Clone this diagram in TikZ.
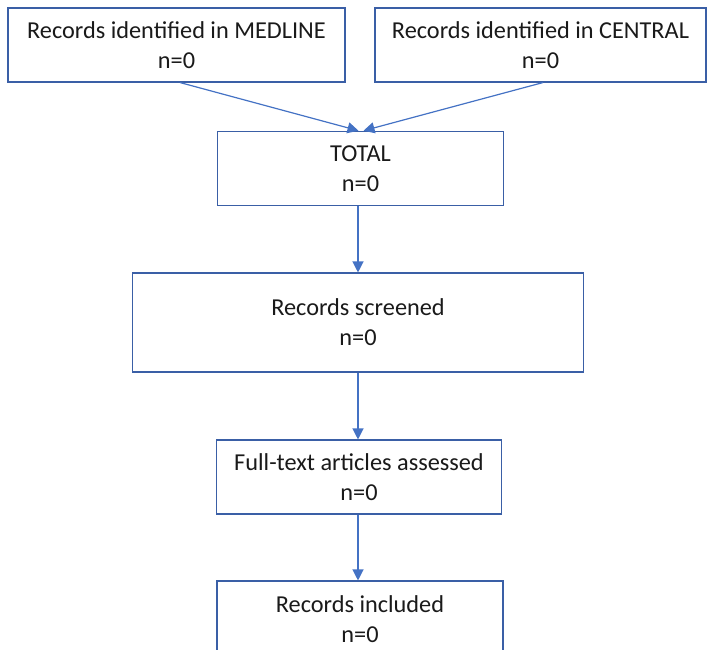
\documentclass[tikz,border=0pt]{standalone}
\usepackage{fontspec}
\setmainfont{Carlito}
\usetikzlibrary{arrows.meta,calc}
\definecolor{boxblue}{HTML}{3A5FA6}
\definecolor{arrblue}{HTML}{4472C4}
\definecolor{txt}{HTML}{1A1A1A}
\tikzset{
  box/.style={draw=boxblue, line width=1.1pt, fill=white, inner sep=0pt,
    align=center, text=txt, font=\fontsize{24.3}{30}\selectfont},
  arr/.style={draw=arrblue, line width=1.2pt, -{Triangle[length=11pt,width=11pt]}}
}
\begin{document}
\begin{tikzpicture}[x=1pt,y=-1pt]
\useasboundingbox (0,0) rectangle (707,649);
\clip (0,0) rectangle (707,649);
\node[box, minimum width=337pt, minimum height=74pt] (med) at (176.5,45) {Records identified in MEDLINE\\n=0};
\node[box, minimum width=331pt, minimum height=74pt] (cen) at (540.5,45) {Records identified in CENTRAL\\n=0};
\node[box, minimum width=285.5pt, minimum height=74.5pt] (tot) at (360.5,168.5) {TOTAL\\n=0};
\node[box, minimum width=450.5pt, minimum height=99pt] (scr) at (358,322.5) {Records screened\\n=0};
\node[box, minimum width=285.5pt, minimum height=74pt] (ful) at (359,477) {Full-text articles assessed\\n=0};
\node[box, minimum width=286pt, minimum height=76pt] (inc) at (360,619) {Records included\\n=0};
\coordinate (t1) at ($(tot.south)+(-2.5,0)$);
\coordinate (f1) at ($(ful.south)+(-1,0)$);
\draw[arr] ($(med.south)+(3.5,0)$) -- ($(tot.north)+(-2,0)$);
\draw[arr] ($(cen.south)+(2.5,0)$) -- ($(tot.north)+(3,0)$);
\draw[arr] (t1) -- (t1 |- scr.north);
\draw[arr] (scr.south) -- (scr.south |- ful.north);
\draw[arr] (f1) -- (f1 |- inc.north);
\end{tikzpicture}
\end{document}
